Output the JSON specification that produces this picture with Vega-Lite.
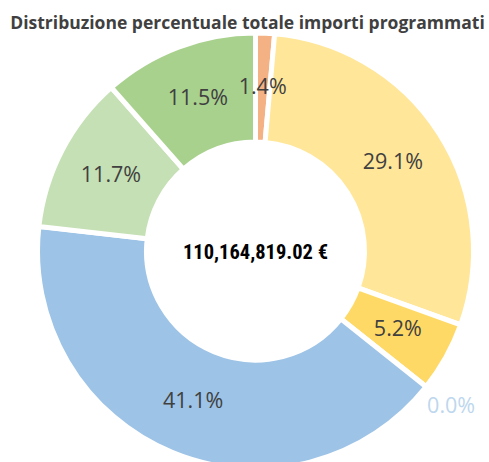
{
  "$schema": "https://vega.github.io/schema/vega-lite/v6.json",
  "width": 467,
  "height": 422,
  "autosize": {"type": "none"},
  "padding": {"left": 22, "right": 0, "top": 40, "bottom": 0},
  "background": "white",
  "title": {
    "text": "Distribuzione percentuale totale importi programmati",
    "font": "Open Sans",
    "fontSize": 17.5,
    "fontWeight": "bold",
    "color": "#404040",
    "anchor": "middle",
    "dx": -8,
    "offset": -9
  },
  "config": {"view": {"stroke": null}},
  "datasets": {
    "slices": [
      {"order": 1, "category": "A", "value": 1.4, "label": "1.4%"},
      {"order": 2, "category": "B", "value": 29.1, "label": "29.1%"},
      {"order": 3, "category": "C", "value": 5.2, "label": "5.2%"},
      {"order": 4, "category": "D", "value": 0.0, "label": "0.0%"},
      {"order": 5, "category": "E", "value": 41.1, "label": "41.1%"},
      {"order": 6, "category": "F", "value": 11.7, "label": "11.7%"},
      {"order": 7, "category": "G", "value": 11.5, "label": "11.5%"}
    ]
  },
  "data": {"name": "slices"},
  "layer": [
    {
      "mark": {"type": "arc", "innerRadius": 109, "outerRadius": 218, "stroke": "white", "strokeWidth": 5},
      "encoding": {
        "theta": {"field": "value", "type": "quantitative", "stack": true},
        "order": {"field": "order", "type": "quantitative", "sort": "ascending"},
        "color": {
          "field": "category",
          "type": "nominal",
          "legend": null,
          "scale": {
            "domain": ["A", "B", "C", "D", "E", "F", "G"],
            "range": ["#F4B183", "#FFE699", "#FFD966", "#BDD7EE", "#9DC3E6", "#C5E0B4", "#A9D18E"]
          }
        }
      }
    },
    {
      "transform": [{"filter": "datum.value > 0"}],
      "mark": {"type": "text", "radius": 163, "font": "Open Sans", "fontSize": 21.5, "color": "#404040", "align": "center", "baseline": "middle"},
      "encoding": {
        "theta": {"field": "value", "type": "quantitative", "stack": true},
        "order": {"field": "order", "type": "quantitative", "sort": "ascending"},
        "text": {"field": "label", "type": "nominal"}
      }
    },
    {
      "transform": [
        {"stack": "value", "groupby": [], "sort": [{"field": "order", "order": "ascending"}], "as": ["v0", "v1"]},
        {"filter": "datum.value == 0"}
      ],
      "mark": {"type": "text", "radius": 250, "font": "Open Sans", "fontSize": 21.5, "color": "#BDD7EE", "align": "center", "baseline": "middle"},
      "encoding": {
        "theta": {"field": "v0", "type": "quantitative", "stack": null, "scale": {"domain": [0, 100]}},
        "text": {"field": "label", "type": "nominal"}
      }
    },
    {
      "data": {"values": [{"total": "110,164,819.02 €"}]},
      "mark": {"type": "text", "font": "Liberation Sans Narrow, Roboto Condensed, Open Sans", "fontSize": 20.5, "fontWeight": "bold", "color": "#000000", "align": "center", "baseline": "middle", "dy": 2},
      "encoding": {
        "text": {"field": "total", "type": "nominal"}
      }
    }
  ]
}
